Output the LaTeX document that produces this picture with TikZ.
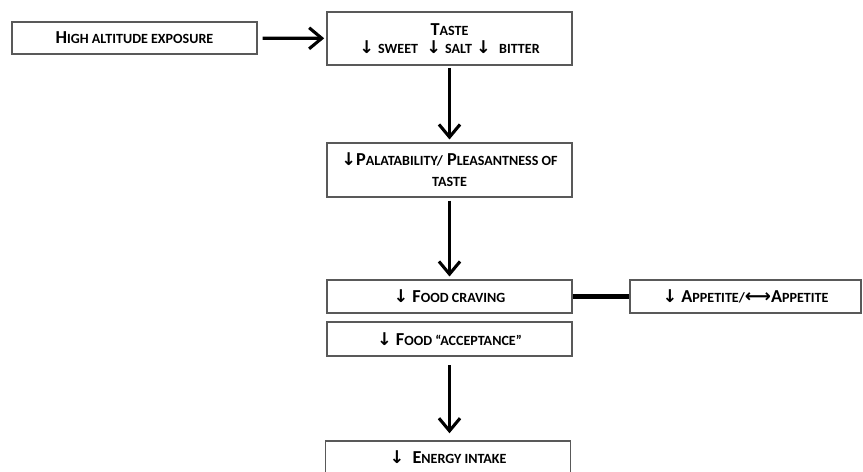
\documentclass[tikz,border=0pt]{standalone}
\usepackage{amsmath,amssymb}
\usepackage{fontspec}
\setmainfont{Carlito}
\newfontfamily\arrowfont{DejaVu Sans}
\usepackage{tikz}
\usetikzlibrary{arrows.meta,positioning}

% small capitals, set by hand
\newcommand{\smc}[1]{{\fontsize{10}{12}\selectfont\MakeUppercase{#1}}}
\newcommand{\dn}{{\arrowfont\bfseries\fontsize{12.5}{12}\selectfont ↓}}

\begin{document}
\begin{tikzpicture}[>={Straight Barb[length=9pt,width=15pt,line width=2.2pt]}, font=\fontsize{13}{15}\selectfont\bfseries]
  \tikzstyle{stage}=[draw=black!65, line width=1pt, align=center, minimum width=6.125cm, inner sep=1pt]
  \tikzstyle{flow}=[->, line width=2.4pt]
  \useasboundingbox (0,0) rectangle (21.575,-11.775);
  \node[stage, minimum height=0.8cm] (expo) at (3.3625,-0.95) {H\smc{igh altitude exposure}};
  \node[stage, minimum height=1.325cm] (taste) at (11.2375,-0.9625) {T\smc{aste}\\[-2pt]\dn\ \smc{sweet}\ \ \dn\ \smc{salt}\ \dn\ \ \smc{bitter}};
  \node[stage, minimum height=1.35cm] (palat) at (11.2375,-4.25) {\dn P\smc{alatability/} P\smc{leasantness of}\\\smc{taste}};
  \node[stage, minimum height=0.825cm] (crave) at (11.2375,-7.4125) {\dn\ F\smc{ood craving}};
  \node[stage, minimum height=0.85cm] (accept) at (11.2375,-8.475) {\dn\ F\smc{ood ``acceptance''}};
  \node[stage, minimum height=0.825cm] (energy) at (11.2,-11.4375) {\dn\ \ E\smc{nergy intake}};
  \node[stage, minimum width=5.775cm, minimum height=0.825cm] (appet) at (18.6375,-7.4125) {\dn\ A\smc{ppetite/}{\arrowfont\bfseries ⟷}A\smc{ppetite}};
  \draw[flow, shorten <=3.5pt, shorten >=1.5pt] (expo) -- (taste);
  \draw[flow, shorten <=1.5pt, shorten >=2pt] (taste) -- (palat);
  \draw[flow, shorten <=2pt, shorten >=2pt] (palat) -- (crave);
  \draw[flow, shorten <=6pt, shorten >=5pt] (accept) -- (energy.north -| accept.south);
  \draw[line width=3pt] (crave) -- (appet);
\end{tikzpicture}
\end{document}
